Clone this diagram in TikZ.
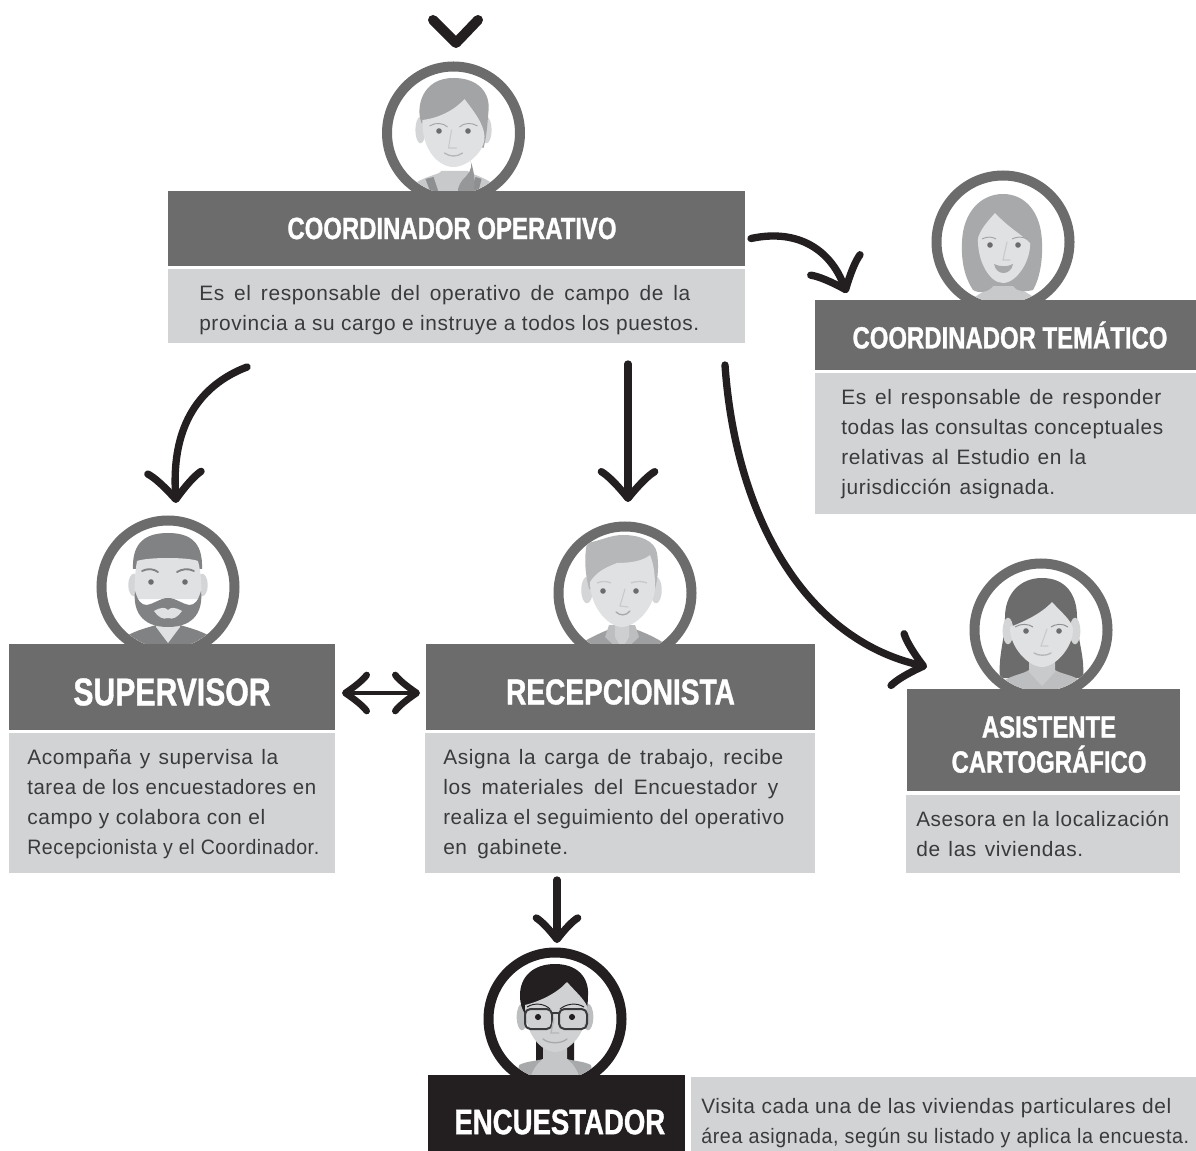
\documentclass[tikz,border=0pt]{standalone}
\usepackage{fontspec}
\usepackage{graphicx}
\setmainfont{Liberation Sans}
\newfontfamily\headfont[FakeStretch=0.78,BoldFeatures={FakeBold=1.0}]{Liberation Sans}
\newfontfamily\copyfont[LetterSpace=3]{Liberation Sans}
\usetikzlibrary{arrows.meta,calc}
\definecolor{ink}{HTML}{231F20}
\definecolor{band}{HTML}{6D6C6D}
\definecolor{pale}{HTML}{D1D3D4}
\definecolor{body}{HTML}{3A3A3C}
\definecolor{skin}{HTML}{DFE1E3}
\definecolor{earc}{HTML}{D3D5D7}
\definecolor{C7C9CB}{HTML}{C7C9CB}
\definecolor{8E8F91}{HTML}{8E8F91}
\definecolor{959799}{HTML}{959799}
\definecolor{A2A4A6}{HTML}{A2A4A6}
\definecolor{B4B6B8}{HTML}{B4B6B8}
\definecolor{A7A9AB}{HTML}{A7A9AB}
\definecolor{808284}{HTML}{808284}
\definecolor{9D9FA1}{HTML}{9D9FA1}
\definecolor{BCBEC0}{HTML}{BCBEC0}
\definecolor{B5B7B9}{HTML}{B5B7B9}
\definecolor{C4C6C8}{HTML}{C4C6C8}
\definecolor{CFD1D3}{HTML}{CFD1D3}
\pgfdeclarearrow{
  name=CurlBarb,
  defaults={length=20pt,width=38pt,line width=5pt},
  setup code={
    \pgfarrowssettipend{0.5\pgfarrowlinewidth}
    \pgfarrowssetlineend{-0.3\pgfarrowlength}
    \pgfarrowssetbackend{-\pgfarrowlength}
    \pgfarrowssavethe\pgfarrowlength
    \pgfarrowssavethe\pgfarrowwidth
    \pgfarrowssavethe\pgfarrowlinewidth
  },
  parameters={\the\pgfarrowlength,\the\pgfarrowwidth,\the\pgfarrowlinewidth},
  drawing code={
    \pgfsetlinewidth{\pgfarrowlinewidth}
    \pgfsetroundcap\pgfsetroundjoin
    \pgfpathmoveto{\pgfpoint{-\pgfarrowlength}{0.5\pgfarrowwidth}}
    \pgfpathcurveto{\pgfpoint{-0.86\pgfarrowlength}{0.38\pgfarrowwidth}}{\pgfpoint{-0.5\pgfarrowlength}{0.2\pgfarrowwidth}}{\pgfpoint{0pt}{0pt}}
    \pgfpathcurveto{\pgfpoint{-0.5\pgfarrowlength}{-0.2\pgfarrowwidth}}{\pgfpoint{-0.86\pgfarrowlength}{-0.38\pgfarrowwidth}}{\pgfpoint{-\pgfarrowlength}{-0.5\pgfarrowwidth}}
    \pgfusepathqstroke
  }
}
\tikzset{
  x=0.75pt,y=-0.75pt,
  wh/.style 2 args={minimum width=#1*0.75pt,minimum height=#2*0.75pt,inner sep=0pt,outer sep=0pt,anchor=north west},
  band/.style={fill=band,text=white,align=center},
  darkband/.style={fill=ink,text=white,align=center},
  headsize/.style 2 args={font={\headfont\bfseries\fontsize{#1}{#2}\selectfont}},
  pane/.style={fill=pale},
  copytext/.style={text=body,anchor=west,align=left,inner sep=0pt,font={\copyfont\fontsize{15.65pt}{22.5pt}\selectfont}},
  ring/.style={circle,fill=white,draw=band,line width=7.5pt,minimum size=99.75pt,inner sep=0pt},
  darkring/.style={ring,draw=ink},
  thinline/.style={line width=0.8pt,line cap=round},
  link/.style={draw=ink,line width=5.5pt,line cap=round,-{CurlBarb[length=20pt,width=40pt,line width=5.5pt]}},
}
\newsavebox{\fitbox}
% one line of copy, brought to a width given in pixels: spaces stretch, or the line narrows
\newcommand{\fitline}[2]{\sbox{\fitbox}{#2}\ifdim\wd\fitbox<\dimexpr #1pt*3/4\relax\makebox[\dimexpr #1pt*3/4\relax][s]{#2}\else\resizebox{\dimexpr #1pt*3/4\relax}{\height}{\usebox{\fitbox}}\fi}
\newcommand{\lowered}[2]{\raisebox{-#1}[\height][\depth]{#2}}
\begin{document}
\begin{tikzpicture}
\useasboundingbox (0,0) rectangle (1196,1151);
%
% avatars
\node[ring] (av1) at (453.5,133) {};
\begin{scope}[shift={(453.5,133)}]
\clip (0,0) circle[radius=46pt];
\fill[earc] (-33,-3) ellipse[x radius=3.8pt,y radius=10pt];
\fill[earc] (33,-3) ellipse[x radius=3.8pt,y radius=10pt];
\fill[C7C9CB] (-40,70) -- (-38,50) .. controls (-25,42) and (-15,42) .. (-12,38) -- (14,38) .. controls (20,42) and (30,44) .. (38,50) -- (40,70) -- cycle;
\fill[8E8F91] (-28,46) -- (-20,44) -- (-14,62) -- (-22,62) -- cycle;
\fill[8E8F91] (28,46) -- (22,44) -- (16,62) -- (24,62) -- cycle;
\fill[A2A4A6] (0,-55) .. controls (25,-55) and (37,-40) .. (35,-22) .. controls (34,-10) and (33,5) .. (30,15) -- (-32,-10) .. controls (-38,-25) and (-32,-55) .. (0,-55) -- cycle;
\fill[skin] (-31,-13) .. controls (-15,-15) and (0,-22) .. (11,-34) .. controls (20,-22) and (30,-10) .. (31,3) .. controls (32,18) and (14,34) .. (0,34) .. controls (-14,34) and (-32,18) .. (-31,-13) -- cycle;
\fill[959799] (17,28) .. controls (20,36) and (14,42) .. (9,47) .. controls (5,52) and (3,58) .. (5,66) -- (18,66) .. controls (23,54) and (21,38) .. (17,28) -- cycle;
\draw[A2A4A6,line width=0.7pt] (-24,-7) .. controls (-18,-11) and (-10,-10) .. (-6,-6);
\draw[A2A4A6,line width=0.7pt] (24,-7) .. controls (18,-11) and (10,-10) .. (6,-6);
\fill[band] (-14.5,-2) circle[radius=2.1pt] (14.5,-2) circle[radius=2.1pt];
\draw[C7C9CB,thinline] (-2,-3) -- (-5,15) -- (3,15);
\draw[B4B6B8,line width=1pt,line cap=round] (-9,20) .. controls (-4,24) and (4,24) .. (9,20);
\end{scope}
%
\node[ring] (av2) at (1003,242) {};
\begin{scope}[shift={(1003,242)}]
\clip (0,0) circle[radius=46pt];
\fill[C7C9CB] (-40,70) -- (-36,62) .. controls (-25,50) and (-15,50) .. (-12,42) -- (14,42) .. controls (18,50) and (30,52) .. (38,62) -- (40,70) -- cycle;
\fill[A7A9AB] (0,-48) .. controls (22,-48) and (38,-30) .. (39,0) .. controls (40,20) and (36,38) .. (30,48) .. controls (22,50) and (14,50) .. (10,44) -- (-10,44) .. controls (-14,50) and (-24,52) .. (-30,48) .. controls (-38,36) and (-42,20) .. (-41,0) .. controls (-40,-30) and (-22,-48) .. (0,-48) -- cycle;
\fill[skin] (-25,-4) .. controls (-22,-14) and (-14,-22) .. (-8,-29) .. controls (6,-14) and (18,-8) .. (27,1) .. controls (28,18) and (14,41) .. (0,41) .. controls (-14,41) and (-26,18) .. (-25,-4) -- cycle;
\draw[A2A4A6,line width=0.7pt] (-21,-3) .. controls (-16,-6) and (-10,-5) .. (-7,-3);
\draw[A2A4A6,line width=0.7pt] (24,-3) .. controls (19,-6) and (13,-5) .. (9,-3);
\fill[band] (-13,3) circle[radius=2.1pt] (15,3) circle[radius=2.1pt];
\draw[C7C9CB,thinline] (4,0) -- (0,18) -- (7,18);
\fill[A7A9AB] (-9,22) .. controls (-3,25) and (5,25) .. (10,22) .. controls (8,34) and (-7,34) .. (-9,22) -- cycle;
\end{scope}
%
\node[ring] (av3) at (168,587) {};
\begin{scope}[shift={(168,587)}]
\clip (0,0) circle[radius=46pt];
\fill[earc] (-34,-2) ellipse[x radius=4.3pt,y radius=8.5pt];
\fill[earc] (34,-2) ellipse[x radius=4.3pt,y radius=8.5pt];
\fill[808284] (-50,80) -- (-50,54) .. controls (-35,44) and (-25,42) .. (-12,38) -- (12,38) .. controls (25,42) and (35,44) .. (50,54) -- (50,80) -- cycle;
\fill[skin] (-12,30) -- (12,30) -- (12,40) -- (0,56) -- (-12,40) -- cycle;
\fill[808284] (-35,-18) .. controls (-36,-45) and (-22,-54) .. (0,-54) .. controls (22,-54) and (35,-45) .. (34,-18) -- cycle;
\fill[skin] (-31,-26) .. controls (-20,-30) and (20,-30) .. (30,-26) .. controls (33,-15) and (34,0) .. (33,12) -- (-33,12) .. controls (-34,0) and (-33,-15) .. (-31,-26) -- cycle;
\fill[808284] (-33,4) .. controls (-30,14) and (-27,18) .. (-21,18) .. controls (-14,17) and (-8,11) .. (0,11) .. controls (8,11) and (14,17) .. (21,18) .. controls (27,18) and (30,14) .. (33,4) .. controls (35,22) and (28,40) .. (0,40) .. controls (-28,40) and (-35,22) .. (-33,4) -- cycle;
\fill[skin] (-14,24) .. controls (-7,20) and (-3,20) .. (0,23) .. controls (3,20) and (7,20) .. (14,24) .. controls (10,30) and (5,33) .. (0,31) .. controls (-5,33) and (-10,30) .. (-14,24) -- cycle;
\draw[808284,line width=1.4pt,line cap=round] (-26,-16) .. controls (-20,-19) and (-14,-18) .. (-10,-15);
\draw[808284,line width=1.4pt,line cap=round] (26,-16) .. controls (20,-19) and (14,-18) .. (9,-15);
\fill[band] (-17,-5) circle[radius=2.1pt] (17,-5) circle[radius=2.1pt];
\end{scope}
%
\node[ring] (av4) at (625,593) {};
\begin{scope}[shift={(625,593)}]
\clip (0,0) circle[radius=46pt];
\fill[earc] (-38,-3) ellipse[x radius=4.3pt,y radius=10pt];
\fill[earc] (31,-3) ellipse[x radius=4.3pt,y radius=10pt];
\fill[9D9FA1] (-50,80) -- (-50,54) .. controls (-38,46) and (-25,40) .. (-15,36) -- (10,36) .. controls (20,40) and (30,44) .. (42,52) -- (42,80) -- cycle;
\fill[BCBEC0] (-16,32) -- (10,32) -- (14,44) -- (-3,60) -- (-20,44) -- cycle;
\fill[skin!92!black] (-10,28) -- (4,28) -- (4,44) -- (-3,56) -- (-10,44) -- cycle;
\fill[B5B7B9] (-36,-4) .. controls (-40,-20) and (-41,-35) .. (-38,-50) .. controls (-25,-52) and (-15,-58) .. (-2,-58) .. controls (15,-58) and (30,-52) .. (32,-40) .. controls (34,-28) and (33,-15) .. (30,-4) -- cycle;
\fill[skin] (-35,-11) .. controls (-28,-22) and (-18,-26) .. (-8,-30) .. controls (5,-30) and (18,-32) .. (25,-38) .. controls (29,-28) and (30,-18) .. (30,-6) .. controls (30,15) and (10,34) .. (-3,34) .. controls (-16,34) and (-35,15) .. (-35,-11) -- cycle;
\draw[C7C9CB,line width=1pt] (-28,-10) .. controls (-24,-12) and (-18,-12) .. (-14,-10);
\draw[C7C9CB,line width=1pt] (22,-10) .. controls (18,-12) and (10,-12) .. (6,-10);
\fill[band] (-22,-2) circle[radius=2.1pt] (11,-2) circle[radius=2.1pt];
\draw[C7C9CB,thinline] (0,-4) -- (-5,13) -- (3,14);
\draw[A7A9AB,line width=1pt,line cap=round] (-9,19) .. controls (-5,23) and (1,23) .. (5,18);
\end{scope}
%
\node[ring] (av5) at (1041,630) {};
\begin{scope}[shift={(1041,630)}]
\clip (0,0) circle[radius=46pt];
\fill[band] (1,-52) .. controls (25,-52) and (36,-35) .. (36,-13) .. controls (36,10) and (44,25) .. (42,48) -- (-41,48) .. controls (-43,25) and (-36,10) .. (-36,-13) .. controls (-36,-35) and (-22,-52) .. (1,-52) -- cycle;
\fill[earc] (-33,1) ellipse[x radius=4pt,y radius=10pt];
\fill[earc] (34,1) ellipse[x radius=4pt,y radius=10pt];
\fill[BCBEC0] (-40,70) -- (-36,50) .. controls (-28,45) and (-18,44) .. (-12,40) -- (14,40) .. controls (20,44) and (32,45) .. (38,50) -- (40,70) -- cycle;
\fill[skin!90!black] (-12,30) -- (14,30) -- (14,42) -- (1,56) -- (-12,42) -- cycle;
\fill[skin] (-31,-3) .. controls (-18,-8) and (0,-16) .. (11,-28) .. controls (20,-18) and (30,-10) .. (32,-2) .. controls (33,16) and (15,37) .. (1,37) .. controls (-13,37) and (-32,16) .. (-31,-3) -- cycle;
\draw[8E8F91,line width=0.7pt] (-26,-3) .. controls (-20,-7) and (-12,-6) .. (-8,-3);
\draw[8E8F91,line width=0.7pt] (27,-3) .. controls (22,-7) and (14,-6) .. (10,-3);
\fill[band] (-15,1) circle[radius=2.1pt] (18,1) circle[radius=2.1pt];
\draw[C7C9CB,thinline] (6,-1) -- (0,16) -- (7,16);
\draw[B4B6B8,line width=1pt,line cap=round] (-7,23) .. controls (-3,26) and (6,26) .. (10,23);
\end{scope}
%
\node[darkring] (av6) at (555,1019) {};
\begin{scope}[shift={(555,1019)}]
\clip (0,0) circle[radius=46pt];
\fill[ink] (-19,20) -- (-19,42) -- (0,60) -- (19,42) -- (19,20) -- cycle;
\fill[BCBEC0] (-33,-2) ellipse[x radius=4pt,y radius=10pt];
\fill[BCBEC0] (33,-2) ellipse[x radius=4pt,y radius=10pt];
\fill[A7A9AB] (-40,70) -- (-36,46) .. controls (-28,42) and (-18,42) .. (-12,40) -- (12,40) .. controls (18,42) and (28,42) .. (36,46) -- (40,70) -- cycle;
\fill[C4C6C8] (-12,28) -- (12,28) -- (12,40) .. controls (20,46) and (26,56) .. (26,70) -- (-26,70) .. controls (-26,56) and (-20,46) .. (-12,40) -- cycle;
\fill[ink] (0,-55) .. controls (22,-55) and (34,-42) .. (33,-24) .. controls (33,-15) and (32,-10) .. (30,-5) -- (-30,-5) .. controls (-33,-10) and (-35,-15) .. (-35,-24) .. controls (-35,-42) and (-22,-55) .. (0,-55) -- cycle;
\fill[CFD1D3] (-30,-14) .. controls (-14,-18) and (2,-26) .. (12,-37) .. controls (20,-28) and (29,-20) .. (32,-13) .. controls (33,14) and (14,33) .. (0,33) .. controls (-14,33) and (-31,14) .. (-30,-14) -- cycle;
\draw[ink,line width=0.7pt] (-28,-12) .. controls (-20,-17) and (-10,-15) .. (-5,-10);
\draw[ink,line width=0.7pt] (29,-12) .. controls (21,-17) and (11,-15) .. (5,-10);
\draw[body,line width=1.5pt,rounded corners=4pt] (-30,-10) rectangle (-3,10);
\draw[body,line width=1.5pt,rounded corners=4pt] (4,-10) rectangle (32,10);
\draw[body,line width=1.5pt] (-3,-6) -- (4,-6);
\fill[ink] (-17,-2) circle[radius=2.3pt] (17,-2) circle[radius=2.3pt];
\draw[B4B6B8,line width=1pt] (-1,-1) -- (-4,14) -- (4,14);
\draw[A7A9AB,line width=1pt,line cap=round] (-12,20) .. controls (-6,25) and (6,25) .. (12,20);
\end{scope}
%
% role bands and copy panes
\node[wh={577}{75},band,headsize={23pt}{26pt}] (op) at (168,191) {\hspace*{-6.75pt}COORDINADOR OPERATIVO};
\node[wh={577}{74},pane] (opp) at (168,269) {};
\node[copytext] (opt) at (199,310) {\fitline{491}{Es el responsable del operativo de campo de la}\\\fitline{500}{provincia a su cargo e instruye a todos los puestos.}};
%
\node[wh={381}{70},band,headsize={23pt}{26pt}] (tem) at (815,300) {\hspace*{6.75pt}COORDINADOR TEMÁTICO};
\node[wh={381}{141},pane] (temp) at (815,373) {};
\node[copytext] (temt) at (841,444) {\fitline{320}{Es el responsable de responder}\\\fitline{322}{todas las consultas conceptuales}\\\fitline{245}{relativas al Estudio en la}\\\fitline{214}{jurisdicción asignada.}};
%
\node[wh={326}{86},band,headsize={29pt}{30pt}] (sup) at (9,644) {\lowered{3.75pt}{SUPERVISOR}};
\node[wh={326}{140},pane] (supp) at (9,733) {};
\node[copytext] (supt) at (27,804) {\fitline{251}{Acompaña y supervisa la}\\\fitline{289}{tarea de los encuestadores en}\\\fitline{238}{campo y colabora con el}\\\fitline{292}{Recepcionista y el Coordinador.}};
%
\node[wh={389}{86},band,headsize={27pt}{30pt}] (rec) at (426,644) {\lowered{3.75pt}{RECEPCIONISTA}};
\node[wh={390}{140},pane] (recp) at (425,733) {};
\node[copytext] (rect) at (443,804) {\fitline{340}{Asigna la carga de trabajo, recibe}\\\fitline{335}{los materiales del Encuestador y}\\\fitline{341}{realiza el seguimiento del operativo}\\\fitline{125}{en gabinete.}};
%
\node[wh={273}{102},band,headsize={23pt}{26.25pt}] (asi) at (907,689) {\hspace*{8.25pt}\lowered{3.4pt}{ASISTENTE}\\\hspace*{8.25pt}\lowered{3.4pt}{CARTOGRÁFICO}};
\node[wh={274}{78},pane] (asip) at (906,795) {};
\node[copytext] (asit) at (916,834) {\fitline{253}{Asesora en la localización}\\\fitline{167}{de las viviendas.}};
%
\node[wh={257}{76},darkband,headsize={26.5pt}{30pt}] (enc) at (428,1075) {\hspace*{5pt}\lowered{6.75pt}{ENCUESTADOR}};
\node[wh={505}{74},pane] (encp) at (691,1077) {};
\node[copytext] (enct) at (701,1123) {\fitline{470}{Visita cada una de las viviendas particulares del}\\\fitline{488}{área asignada, según su listado y aplica la encuesta.}};
%
% connectors
\coordinate (c0a) at (433,20);
\coordinate (c0b) at (456,43);
\coordinate (c0c) at (478,20);
\draw[ink,line width=7.5pt,line cap=round,line join=round] (c0a) -- (c0b) -- (c0c);
\coordinate (c1s) at ($(op.east)+(6,10)$);
\coordinate (c1e) at (847,293);
\draw[link] (c1s) .. controls (800,228) and (830,252) .. (c1e);
\coordinate (c2s) at ($(opp.south west)+(79,24)$);
\coordinate (c2e) at (176,503);
\draw[link] (c2s) .. controls (200,385) and (172,425) .. (c2e);
\coordinate (c3s) at (628,364);
\coordinate (c3e) at (628,502);
\draw[link] (c3s) -- (c3e);
\coordinate (c4s) at (725,365);
\coordinate (c4e) at (927,667);
\draw[link] (c4s) .. controls (735,510) and (800,635) .. (c4e);
\coordinate (c5l) at ($(sup.east)+(7,6)$);
\coordinate (c5r) at ($(rec.west)+(-6,6)$);
\draw[ink,line width=3.5pt,line cap=round,{CurlBarb[length=16pt,width=27pt,line width=5pt]}-{CurlBarb[length=16pt,width=27pt,line width=5pt]}] (c5l) -- (c5r);
\coordinate (c6s) at ($(recp.south west)+(132,7)$);
\coordinate (c6e) at (557,943);
\draw[ink,line width=5.5pt,line cap=round,-{CurlBarb[length=16pt,width=31pt,line width=5.5pt]}] (c6s) -- (c6e);
\end{tikzpicture}
\end{document}
